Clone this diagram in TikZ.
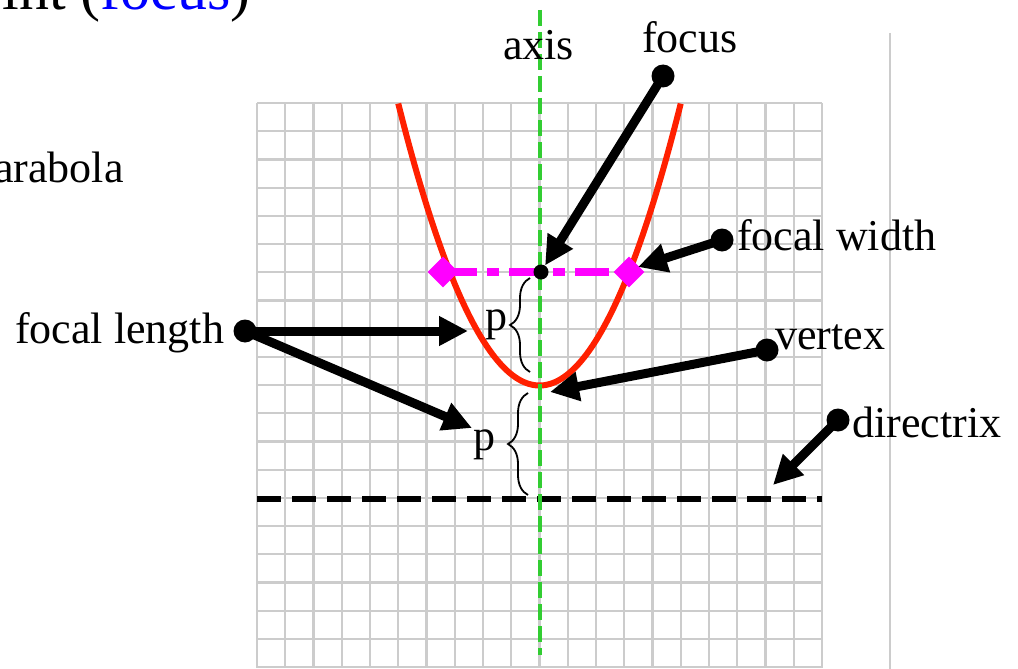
\documentclass[tikz,border=0pt]{standalone}
\usepackage{fontspec}
\setmainfont{Liberation Serif}
\usetikzlibrary{arrows.meta,shapes.geometric,decorations.pathreplacing}
\definecolor{gridgray}{RGB}{204,204,204}
\definecolor{axisgreen}{RGB}{50,205,50}
\definecolor{parabred}{RGB}{255,32,0}
\definecolor{fwmag}{RGB}{255,0,255}
\begin{document}
\begin{tikzpicture}[x=1pt,y=-1pt,
  lbl/.style={font=\fontsize{44}{50}\selectfont, inner sep=0pt, anchor=base west},
  gridline/.style={draw=gridgray, line width=2.2pt},
  dotnode/.style={circle, fill=black, minimum size=23pt, inner sep=0pt},
  arr/.style={line width=9pt, -{Triangle[length=29pt,width=28pt]}},
  diam/.style={diamond, fill=fwmag, minimum width=31pt, minimum height=31pt, inner sep=0pt},
  brc/.style={decorate, decoration={brace, amplitude=20pt}, line width=1.8pt}
]
\useasboundingbox (0,0) rectangle (1018,669);
\clip (0,0) rectangle (1018,669);
% grid
\foreach \i in {0,...,20}{
  \draw[gridline] ({257+\i*28.25},103) -- ({257+\i*28.25},668);
  \draw[gridline] (257,{103+\i*28.2}) -- (822,{103+\i*28.2});
}
% right gray rule
\draw[draw=gridgray, line width=2.2pt] (890,33) -- (890,669);
% directrix
\draw[line width=6pt, dash pattern=on 24pt off 11pt] (257,498.5) -- (822,498.5);
% parabola
\draw[parabred, line width=6pt] plot[domain=-5:5, samples=100] ({539.5+\x*28.25},{385.5-0.4*\x*\x*28.2});
% focal width
\node[diam] (L) at (443,272) {};
\node[diam] (R) at (629,272) {};
\draw[fwmag, line width=8pt, dash pattern=on 34pt off 10pt on 12pt off 10pt] (L.center) -- (R.center);
% axis
\draw[axisgreen, line width=4.5pt, dash pattern=on 16pt off 6pt] (540,10) -- (540,655);
% focus point
\node[circle, fill=black, minimum size=15pt, inner sep=0pt] (F) at (541,272) {};
\coordinate (V) at (539.5,385.5);
% braces
\draw[brc] (530,372) -- (530,278);
\draw[brc] (528,495) -- (528,393);
\node[lbl] (p1) at (485,330) {p};
\node[lbl] (p2) at (473,450) {p};
% labels
\node[lbl] (axis) at (503,60) {axis};
\node[lbl] (focus) at (642,53) {focus};
\node[lbl] (fw) at (737,250) {focal width};
\node[lbl] (fl) at (15,343) {focal length};
\node[lbl] (vx) at (775,349) {vertex};
\node[lbl] (dx) at (852,437) {directrix};
\node[lbl] (para) at (-6,182) {arabola};
\node[font=\fontsize{60}{66}\selectfont, inner sep=0pt, anchor=base east] (top) at (251,10) {int (\textcolor{blue}{focus})};
% dots
\node[dotnode] (fd) at (663,76) {};
\node[dotnode] (wd) at (722,240) {};
\node[dotnode] (ld) at (245,331) {};
\node[dotnode] (vd) at (767,350) {};
\node[dotnode] (dd) at (838,420) {};
% arrow targets
\coordinate (wt) at (638,267);
\coordinate (lt1) at (468,331);
\coordinate (lt2) at (472,428);
\coordinate (vt) at (550,392);
\coordinate (dt) at (773,485);
% arrows
\draw[arr] (fd.center) -- (F);
\draw[arr] (wd.center) -- (wt);
\draw[arr] (ld.center) -- (lt1);
\draw[arr] (ld.center) -- (lt2);
\draw[arr] (vd.center) -- (vt);
\draw[arr] (dd.center) -- (dt);
\end{tikzpicture}
\end{document}
